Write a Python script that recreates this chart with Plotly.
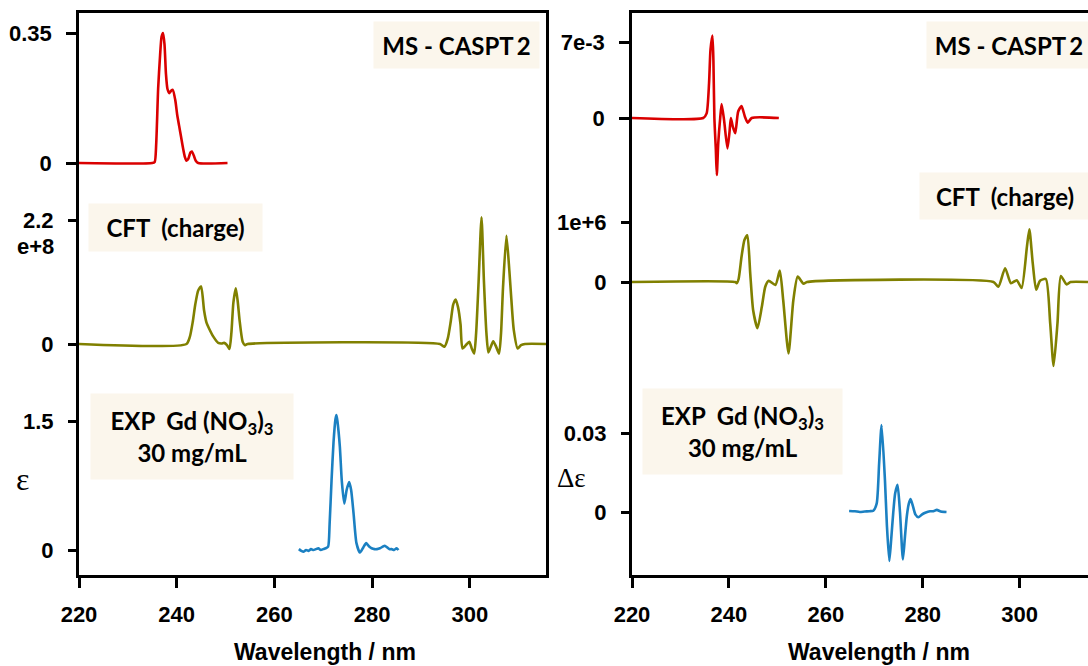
import plotly.graph_objects as go

# ---------------- absorption (left panel) ----------------
# MS-CASPT2 absorption
ms_abs_wl = [220, 235.0, 235.5, 235.8, 236.2, 236.6, 236.9, 237.2, 237.5, 237.8, 238.1,
             238.5, 238.9, 239.2, 239.7, 240.1, 240.5, 240.9, 241.3, 241.7, 242.0,
             242.4, 242.8, 243.1, 243.5, 243.9, 244.4, 250.4]
ms_abs_val = [0, 0, 0.003, 0.05, 0.20, 0.29, 0.34, 0.35, 0.32, 0.24, 0.20,
              0.188, 0.195, 0.197, 0.17, 0.13, 0.10, 0.07, 0.04, 0.015, 0.006,
              0.012, 0.028, 0.031, 0.02, 0.006, 0, 0]

# CFT (charge) absorption
cft_abs_wl = [220, 242.0, 242.7, 243.3, 243.8, 244.4, 245.0, 245.6, 246.1, 246.6, 247.5,
              248.5, 249.2, 249.7, 250.3, 250.8, 251.2, 251.6, 252.1, 252.5, 252.9,
              253.5, 254.0, 254.5, 293.9, 294.8, 295.5, 296.1, 296.6, 297.1, 297.6,
              298.1, 298.5, 299.2, 299.9, 300.4, 300.9, 301.3, 301.8, 302.4, 302.9,
              303.4, 303.8, 304.3, 304.8, 305.4, 306.0, 306.4, 306.8, 307.5, 308.1,
              308.5, 309.0, 309.8, 310.5, 311.3, 315.6]
cft_abs_val = [0, 0, 0.13e8, 0.40e8, 0.70e8, 0.95e8, 1.02e8, 0.60e8, 0.38e8, 0.28e8, 0.13e8,
               0.02e8, 0.01e8, 0.02e8, -0.02e8, -0.09e8, 0.20e8, 0.73e8, 0.99e8, 0.75e8, 0.40e8,
               0.04e8, -0.02e8, 0, 0, -0.05e8, 0.10e8, 0.40e8, 0.70e8, 0.79e8, 0.65e8,
               0.35e8, -0.08e8, -0.02e8, 0.04e8, -0.08e8, -0.17e8, 0.20e8, 1.10e8, 2.25e8, 1.10e8,
               0.20e8, -0.15e8, -0.05e8, 0.05e8, -0.05e8, -0.17e8, 0.20e8, 1.00e8, 1.92e8, 1.30e8,
               0.80e8, 0.25e8, -0.08e8, -0.02e8, 0, 0]

# Experimental absorption, Gd(NO3)3 30 mg/mL
exp_abs_wl = [265.0, 265.5, 266.0, 266.5, 267.0, 267.5, 268.0, 268.5, 269.0, 269.5,
              270.0, 270.5, 271.0, 271.3, 271.7, 272.1, 272.5, 272.7, 272.9, 273.4,
              273.8, 274.3, 274.8, 275.3, 275.7, 276.2, 276.8, 277.5, 278.2, 278.8,
              279.4, 279.9, 280.5, 281.0, 281.6, 282.2, 282.6, 283.1, 283.6, 284.0,
              284.5, 285.0, 285.4]
exp_abs_val = [0.01, -0.01, -0.02, 0.0, -0.01, 0.01, 0.0, 0.01, 0.02, 0.0,
               0.01, 0.02, 0.04, 0.30, 0.81, 1.25, 1.52, 1.57, 1.50, 1.20,
               0.80, 0.54, 0.70, 0.79, 0.70, 0.43, 0.08, -0.03, 0.03, 0.08,
               0.04, 0.02, 0.01, 0.01, 0.02, 0.04, 0.05, 0.03, 0.01, 0.01,
               0.0, 0.02, 0.0]

# ---------------- circular dichroism (right panel) ----------------
ms_cd_wl = [220, 234.7, 235.4, 235.9, 236.2, 236.6, 236.8, 237.0, 237.3, 237.5, 237.8,
            238.2, 238.5, 239.0, 239.7, 240.1, 240.4, 240.8, 241.3, 241.9, 242.6,
            243.3, 243.9, 244.7, 250.3]
ms_cd_val = [0, 0, 0.43e-3, 3.2e-3, 6.3e-3, 7.6e-3, 5.3e-3, 0, -2.9e-3, -5.25e-3, -2.3e-3,
             0, 1.29e-3, -0.2e-3, -2.8e-3, -1.4e-3, 0, -0.8e-3, -1.41e-3, 0.58e-3, 1.1e-3,
             0.12e-3, -0.43e-3, 0, 0]

cft_cd_wl = [220, 241.3, 241.6, 242.0, 242.6, 243.2, 243.8, 244.4, 245.0, 245.9, 246.8,
             247.5, 248.2, 249.6, 250.5, 251.2, 252.3, 253.3, 254.2, 255.4, 256.1,
             294.6, 295.6, 297.0, 298.2, 299.4, 300.4, 301.5, 302.0, 302.7, 303.4,
             304.2, 305.4, 306.3, 307.0, 307.8, 308.5, 309.7, 310.5, 314.1]
cft_cd_val = [0, 0, -0.02e6, 0.05e6, 0.42e6, 0.70e6, 0.78e6, 0.14e6, -0.47e6, -0.77e6, -0.41e6,
              -0.08e6, 0.02e6, -0.05e6, 0.19e6, -0.30e6, -1.19e6, -0.30e6, 0.09e6, -0.03e6, 0,
              0, -0.08e6, 0.23e6, -0.02e6, 0.03e6, -0.10e6, 0.59e6, 0.88e6, 0.31e6, -0.13e6,
              0.02e6, 0.05e6, -0.69e6, -1.40e6, -0.69e6, 0.10e6, -0.04e6, 0, 0]

exp_cd_wl = [264.8, 266.0, 267.0, 268.0, 269.0, 269.8, 270.5, 271.0, 271.5, 272.2,
             272.6, 273.1, 273.5, 273.9, 274.3, 274.8, 275.3, 275.9, 276.3, 276.7,
             277.1, 277.5, 278.0, 278.5, 279.1, 279.8, 280.5, 281.5, 282.2, 282.9,
             283.7, 284.9]
exp_cd_val = [0.0004, 0.0003, 0.0, 0.0002, 0.0003, 0.0005, 0.0033, 0.0185, 0.033, 0.012,
              -0.005, -0.0186, -0.010, -0.0005, 0.007, 0.0103, 0.0, -0.018, -0.010, -0.0018,
              0.003, 0.0049, 0.002, -0.001, -0.002, -0.001, -0.0003, 0.0003, 0.0003, 0.0008,
              0.0002, 0.0]

# tick labels
x_ticks = [220, 240, 260, 280, 300]
left_ticks = {"y": ([0, 0.35], ["0", "0.35"]),
              "y2": ([0, 2.2e8], ["0", "2.2"]),
              "y3": ([0, 1.5], ["0", "1.5"])}
right_ticks = {"y4": ([0, 7e-3], ["0", "7e-3"]),
               "y5": ([0, 1e6], ["0", "1e+6"]),
               "y6": ([0, 0.03], ["0", "0.03"])}

RED, OLIVE, BLUE = "#DA0000", "#808000", "#1B80C2"
W, H = 1088, 666
TOP, BOTTOM = 13, 575            # plot area in pixels
LW = 2.6


def px(x):
    return x / W


def py(y):
    return (BOTTOM - y) / (BOTTOM - TOP)


def yrange(v0_px, tick_val, tick_px):
    """axis range so that 0 sits at v0_px and tick_val at tick_px"""
    per_px = tick_val / (v0_px - tick_px)
    return [-(BOTTOM - v0_px) * per_px, tick_val + (tick_px - TOP) * per_px]


fig = go.Figure()
curves = [
    (ms_abs_wl, ms_abs_val, RED, "x", "y"),
    (cft_abs_wl, cft_abs_val, OLIVE, "x", "y2"),
    (exp_abs_wl, exp_abs_val, BLUE, "x", "y3"),
    (ms_cd_wl, ms_cd_val, RED, "x2", "y4"),
    (cft_cd_wl, cft_cd_val, OLIVE, "x2", "y5"),
    (exp_cd_wl, exp_cd_val, BLUE, "x2", "y6"),
]
for xs, ys, col, xa, ya in curves:
    fig.add_trace(go.Scatter(x=xs, y=ys, mode="lines", xaxis=xa, yaxis=ya,
                             line=dict(color=col, width=LW, shape="spline", smoothing=0.6),
                             showlegend=False, hoverinfo="skip"))

tick_font = dict(family="Liberation Sans, Arial", size=22, color="black", weight="bold")
axis_common = dict(showgrid=False, zeroline=False, ticks="outside", ticklen=10, tickwidth=2.5,
                   tickcolor="black", linecolor="black", linewidth=2.5, tickfont=tick_font,
                   automargin=False)

fig.update_layout(
    width=W, height=H, template="none",
    paper_bgcolor="white", plot_bgcolor="rgba(0,0,0,0)",
    margin=dict(l=0, r=0, t=TOP, b=H - BOTTOM),
    showlegend=False,
    xaxis=dict(domain=[px(79), px(546)], range=[220, 315.6], anchor="y",
               tickvals=x_ticks, showline=True, mirror=True, ticklabelstandoff=8,
               **axis_common),
    xaxis2=dict(domain=[px(632), 1.0], range=[220, 314.1], anchor="y4",
                tickvals=x_ticks, showline=True, mirror=True, ticklabelstandoff=8,
                **axis_common),
)

left_pos = {"y": (163, 0.35, 33), "y2": (344, 2.2e8, 220), "y3": (550, 1.5, 421)}
right_pos = {"y4": (118, 7e-3, 42), "y5": (282, 1e6, 222), "y6": (512, 0.03, 433)}

for i, (name, (v0, tv, tp)) in enumerate(left_pos.items()):
    key = "yaxis" if name == "y" else "yaxis" + name[1:]
    vals, texts = left_ticks[name]
    cfg = dict(domain=[0, 1], anchor="x", range=yrange(v0, tv, tp),
               tickvals=vals, ticktext=texts, ticklabelstandoff=10,
               showline=(i == 0), mirror=(i == 0), **axis_common)
    if i > 0:
        cfg["overlaying"] = "y"
    fig.update_layout({key: cfg})

for i, (name, (v0, tv, tp)) in enumerate(right_pos.items()):
    key = "yaxis" + name[1:]
    vals, texts = right_ticks[name]
    cfg = dict(domain=[0, 1], anchor="x2", range=yrange(v0, tv, tp),
               tickvals=vals, ticktext=texts, ticklabelstandoff=10,
               showline=(i == 0), mirror=False, **axis_common)
    if i > 0:
        cfg["overlaying"] = "y4"
    fig.update_layout({key: cfg})

# exponent line under the 2.2 tick label
fig.add_annotation(text="e+8", xref="paper", yref="paper", x=px(56), y=py(246),
                   xanchor="right", yanchor="middle", showarrow=False, font=tick_font)

# labelled boxes
box_font = dict(family="Lato, Carlito, sans-serif", size=24, color="black", weight="bold")
BOX = "#FBF6EC"
boxes = [
    ("MS - CASPT\u20092", 373, 21, 165, 46),
    ("CFT\u00a0\u00a0(charge)", 88, 203, 173, 47),
    ("EXP\u00a0\u00a0Gd (NO<sub>3</sub>)<sub>3</sub><br>30 mg/mL", 90, 393, 202, 85),
    ("MS - CASPT\u20092", 926, 21, 164, 46),
    ("CFT\u00a0\u00a0(charge)", 919, 172, 170, 46),
    ("EXP\u00a0\u00a0Gd (NO<sub>3</sub>)<sub>3</sub><br>30 mg/mL", 642, 388, 199, 85),
]
for text, x0, y0, w, h in boxes:
    fig.add_annotation(text=text, xref="paper", yref="paper", x=px(x0), y=py(y0),
                       xanchor="left", yanchor="top", width=w, height=h, showarrow=False,
                       bgcolor=BOX, borderpad=0, align="center", valign="middle",
                       font=box_font)

# axis titles
title_font = dict(family="Liberation Sans, Arial", size=23, color="black", weight="bold")
for cx in (325, 879):
    fig.add_annotation(text="Wavelength / nm", xref="paper", yref="paper", x=px(cx),
                       y=py(652), xanchor="center", yanchor="middle", showarrow=False,
                       font=title_font)
fig.add_annotation(text="\u03b5", xref="paper", yref="paper", x=px(22), y=py(479),
                   xanchor="center", yanchor="middle", showarrow=False,
                   font=dict(family="Liberation Serif, Times New Roman", size=32, color="black"))
fig.add_annotation(text="\u0394\u03b5", xref="paper", yref="paper", x=px(571), y=py(478),
                   xanchor="center", yanchor="middle", showarrow=False,
                   font=dict(family="Liberation Serif, Times New Roman", size=27, color="black"))

fig.write_html("out.html")
